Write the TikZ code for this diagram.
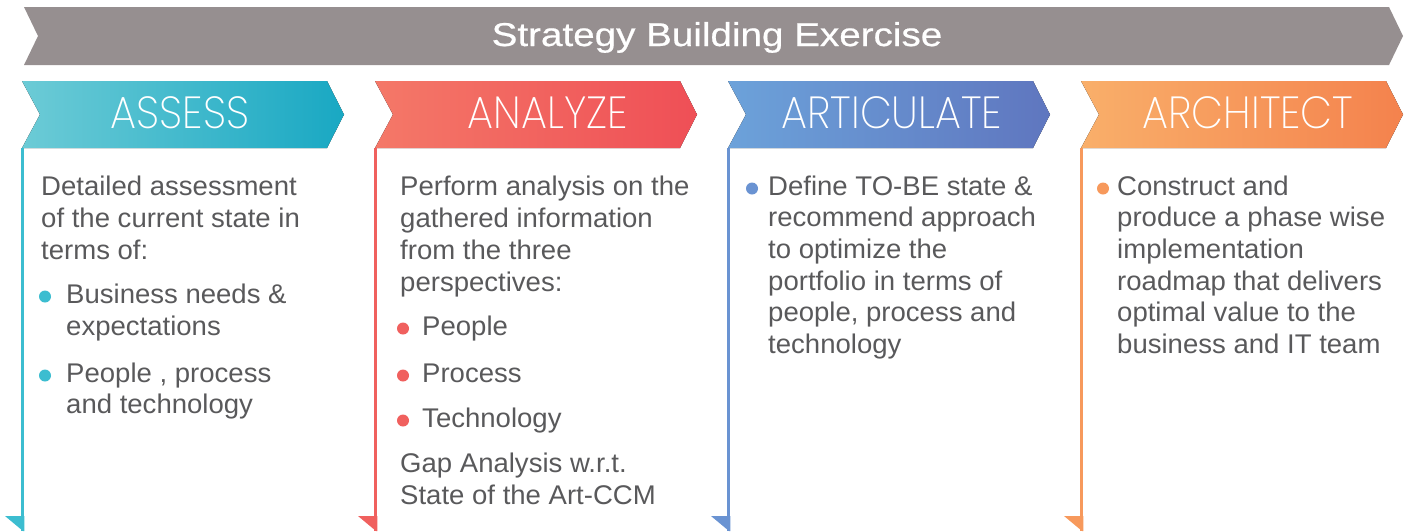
\documentclass[tikz,border=0pt]{standalone}
\usepackage{fontspec}
\setmainfont{Liberation Sans}
\newfontfamily\bodyfont{Liberation Sans}[FakeStretch=1.02]
\newfontfamily\titlefont{Liberation Sans}[FakeStretch=1.17,FakeBold=0.6]
\IfFontExistsTF{Poppins ExtraLight}{\newfontfamily\hdrfont{Poppins ExtraLight}[FakeStretch=0.92]}{%
\IfFontExistsTF{Poppins-Light.ttf}{\newfontfamily\hdrfont{Poppins-Light.ttf}[FakeStretch=0.92]}{%
\IfFontExistsTF{Fira Sans ExtraLight}{\newfontfamily\hdrfont{Fira Sans ExtraLight}}{%
\IfFontExistsTF{Fira Sans Light}{\newfontfamily\hdrfont{Fira Sans Light}}{%
\IfFontExistsTF{Lato Hairline}{\newfontfamily\hdrfont{Lato Hairline}}{%
\IfFontExistsTF{Open Sans Light}{\newfontfamily\hdrfont{Open Sans Light}}{%
\newfontfamily\hdrfont{Poppins}[FakeStretch=0.9]}}}}}}
\definecolor{bannergray}{HTML}{968F90}
\definecolor{txt}{HTML}{59595B}
\definecolor{tealA}{HTML}{6CCBD6}\definecolor{tealB}{HTML}{2FBAD3}\definecolor{tealC}{HTML}{19A8C3}\definecolor{tealL}{HTML}{3CBDD0}
\definecolor{redA}{HTML}{F47868}\definecolor{redB}{HTML}{F2616A}\definecolor{redC}{HTML}{EF4F56}\definecolor{redL}{HTML}{F0605E}
\definecolor{blueA}{HTML}{6CA2DA}\definecolor{blueB}{HTML}{668DCF}\definecolor{blueC}{HTML}{5F76BF}\definecolor{blueL}{HTML}{6A93D2}
\definecolor{orA}{HTML}{F9AF6A}\definecolor{orB}{HTML}{F79A60}\definecolor{orC}{HTML}{F4824D}\definecolor{orL}{HTML}{F7995C}
\begin{document}
\begin{tikzpicture}[x=1pt,y=-1pt,
  body/.style={anchor=base west,inner sep=0pt,text=txt,font=\bodyfont\fontsize{27}{32}\selectfont},
  hdr/.style={anchor=base,inner sep=0pt,text=white,font=\hdrfont\fontsize{45}{48}\selectfont},
  bul/.style={circle,inner sep=0pt,minimum size=12pt},
  vline/.style={line width=3pt}]
\useasboundingbox (0,0) rectangle (1404,531);
% banner
\fill[bannergray] (24,7) -- (1389,7) -- (1403,36) -- (1389,65) -- (24,65) -- (38,36) -- cycle;
\node[anchor=base,inner sep=0pt,text=white,font=\titlefont\fontsize{33}{36}\selectfont] (title) at (717,46) {Strategy Building Exercise};
% headers
\newcommand\hdrshape[4]{%
  \fill[left color=#2,middle color=#3,right color=#4] (#1,81) -- (#1+305,81) -- (#1+322,114.5) -- (#1+305,148) -- (#1,148) -- (#1+18,114.5) -- cycle;}
\newcommand\sideline[2]{%
  \draw[vline,#2] (#1+0.8,148) -- (#1+0.8,531);
  \fill[#2] (#1-17,516) -- (#1+2.3,516) -- (#1+2.3,531) -- (#1+1,531) -- cycle;}
\hdrshape{22}{tealA}{tealB}{tealC}
\hdrshape{375}{redA}{redB}{redC}
\hdrshape{728}{blueA}{blueB}{blueC}
\hdrshape{1081}{orA}{orB}{orC}
\sideline{22}{tealL}
\sideline{375}{redL}
\sideline{728}{blueL}
\sideline{1081}{orL}
\node[hdr] (h1) at (180,128) {ASSESS};
\node[hdr] (h2) at (548,128) {ANALYZE};
\node[hdr] (h3) at (892,128) {ARTICULATE};
\node[hdr] (h4) at (1248,128) {ARCHITECT};
% ASSESS
\node[body] (a1) at (41,195) {Detailed assessment};
\node[body] (a2) at (41,227) {of the current state in};
\node[body] (a3) at (41,259) {terms of:};
\node[bul,fill=tealL] (ab1) at (45,296.5) {};
\node[body] (a4) at (66,303) {Business needs \&};
\node[body] (a5) at (66,335) {expectations};
\node[bul,fill=tealL] (ab2) at (45,375.5) {};
\node[body] (a6) at (66,382) {People , process};
\node[body] (a7) at (66,413) {and technology};
% ANALYZE
\node[body] (n1) at (400,195) {Perform analysis on the};
\node[body] (n2) at (400,227) {gathered information};
\node[body] (n3) at (400,259) {from the three};
\node[body] (n4) at (400,291) {perspectives:};
\node[bul,fill=redL] (nb1) at (403,328.5) {};
\node[body] (n5) at (422,335) {People};
\node[bul,fill=redL] (nb2) at (403,375.5) {};
\node[body] (n6) at (422,382) {Process};
\node[bul,fill=redL] (nb3) at (403,420.5) {};
\node[body] (n7) at (422,427) {Technology};
\node[body] (n8) at (400,472) {Gap Analysis w.r.t.};
\node[body] (n9) at (400,504) {State of the Art-CCM};
% ARTICULATE
\node[bul,fill=blueL] (rb1) at (752,188.5) {};
\node[body] (r1) at (768,195) {Define TO-BE state \&};
\node[body] (r2) at (768,226.7) {recommend approach};
\node[body] (r3) at (768,258.4) {to optimize the};
\node[body] (r4) at (768,290.1) {portfolio in terms of};
\node[body] (r5) at (768,321.8) {people, process and};
\node[body] (r6) at (768,353.5) {technology};
% ARCHITECT
\node[bul,fill=orL] (cb1) at (1103,188.5) {};
\node[body] (c1) at (1117,195) {Construct and};
\node[body] (c2) at (1117,226.7) {produce a phase wise};
\node[body] (c3) at (1117,258.4) {implementation};
\node[body] (c4) at (1117,290.1) {roadmap that delivers};
\node[body] (c5) at (1117,321.8) {optimal value to the};
\node[body] (c6) at (1117,353.5) {business and IT team};
\end{tikzpicture}
\end{document}
